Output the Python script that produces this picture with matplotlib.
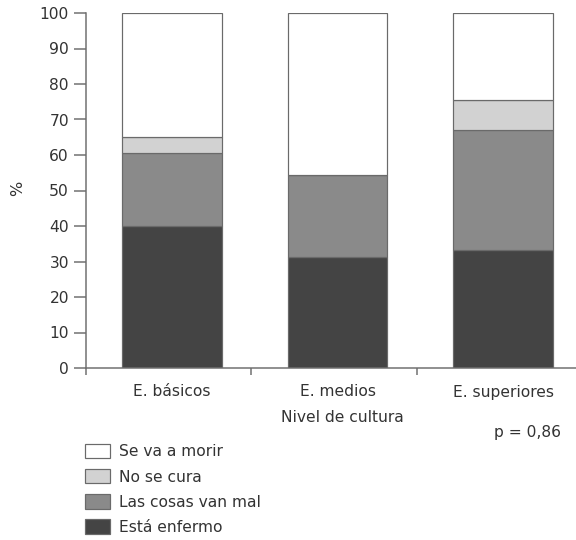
import matplotlib
matplotlib.use("Agg")
import matplotlib.pyplot as plt
import numpy as np

categories = ["E. básicos", "E. medios", "E. superiores"]
series_names = ["Está enfermo", "Las cosas van mal", "No se cura", "Se va a morir"]
esta_enfermo = [40.1, 31.4, 33.2]
cosas_van_mal = [20.5, 23.0, 33.8]
no_se_cura = [4.5, 0.0, 8.5]
se_va_a_morir = [34.9, 45.6, 24.5]
yticks = [0, 10, 20, 30, 40, 50, 60, 70, 80, 90, 100]

series = [esta_enfermo, cosas_van_mal, no_se_cura, se_va_a_morir]
colors = ["#444444", "#8a8a8a", "#d2d2d2", "#ffffff"]

plt.rcParams['font.family'] = ['DejaVu Sans']
txt_color = "#333333"
ax_color = "#6e6e6e"

W, H = 576, 540
fig = plt.figure(figsize=(W / 72, H / 72), dpi=72)
ax = fig.add_axes([86 / W, 1 - 368 / H, (582.5 - 86) / W, (368 - 13) / H])

x = np.arange(len(categories))
bottom = np.zeros(len(categories))
handles = []
for name, vals, c in zip(series_names, series, colors):
    b = ax.bar(x + 0.02, vals, width=0.6, bottom=bottom, color=c, edgecolor="#6a6a6a",
               linewidth=1.2, label=name)
    handles.append(b)
    bottom = bottom + np.array(vals)

ax.set_xlim(-0.5, 2.5)
ax.set_ylim(0, 100)
ax.set_yticks(yticks)
ax.tick_params(axis='y', length=12, width=1.5, pad=5, colors=ax_color,
               labelcolor=txt_color, labelsize=15.5)
ax.set_xticks([-0.5, 0.5, 1.5, 2.5])
ax.set_xticklabels([])
ax.tick_params(axis='x', length=7, width=1.5, colors=ax_color)

for s in ["top", "right"]:
    ax.spines[s].set_visible(False)
for s in ["left", "bottom"]:
    ax.spines[s].set_color(ax_color)
    ax.spines[s].set_linewidth(1.5)

trans = ax.get_xaxis_transform()
for xi, lab in zip(x, categories):
    ax.text(xi + 0.02, -24 / 355, lab, transform=trans, ha='center', va='center',
            fontsize=15.5, color=txt_color)
ax.text(1.05, -49 / 355, "Nivel de cultura", transform=trans, ha='center',
        va='center', fontsize=15.5, color=txt_color)
ax.text(2.17, -65 / 355, "p = 0,86", transform=trans, ha='center',
        va='center', fontsize=15.5, color=txt_color)
fig.text(18 / W, 1 - 188 / H, "%", rotation=90, ha='center', va='center',
         fontsize=16, color=txt_color)

leg = fig.legend(handles=handles[::-1], labels=series_names[::-1],
                 loc='upper left', bbox_to_anchor=(85 / W, 1 - 444 / H),
                 frameon=False, fontsize=15.5, handlelength=1.62, handleheight=1.05,
                 handletextpad=0.55, labelspacing=0.62, borderpad=0, borderaxespad=0)
for t in leg.get_texts():
    t.set_color(txt_color)

fig.savefig("out.png", dpi=72)
